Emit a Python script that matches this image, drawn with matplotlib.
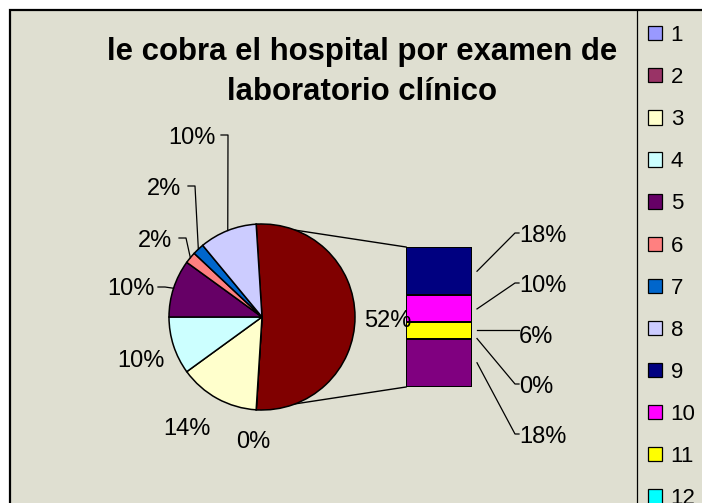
import matplotlib
matplotlib.use("Agg")
import matplotlib.pyplot as plt
from matplotlib.patches import Rectangle, Patch
import numpy as np

plt.rcParams['font.family'] = ['Liberation Sans', 'DejaVu Sans']

# ---------------- data ----------------
TITLE_LINES = ["le cobra el hospital por examen de", "laboratorio clínico"]
CATEGORIES = ["1", "2", "3", "4", "5", "6", "7", "8", "9", "10", "11", "12", "13"]
VALUES = [0, 0, 14, 10, 10, 2, 2, 10, 18, 10, 6, 0, 18]          # percent
COLORS = ["#9999FF", "#993366", "#FFFFCC", "#CCFFFF", "#660066", "#FF8080",
          "#0066CC", "#CCCCFF", "#000080", "#FF00FF", "#FFFF00", "#00FFFF", "#800080"]
N_PIE = 8                      # first 8 categories in the pie, rest in the bar
OTHER_COLOR = "#800000"

# ---------------- layout (pixels, y from top) ----------------
W, H = 702, 503
BG = "#DFDFD1"
PIE_C = (262, 317)
PIE_R = 93
BAR_BOX = (406, 247, 66, 140)   # left, top, width, height
# pie label layout: (left x, baseline y, leader start (x,y) or None); None = hidden (overlapped)
PIE_LABEL_POS = [
    None,                       # 1 (hidden under label of 2)
    (236, 448, None),           # 2
    (163, 435, None),           # 3
    (117, 367, None),           # 4
    (107, 295, (158, 287)),     # 5
    (138, 247, (179, 238)),     # 6
    (147, 195, (188, 186)),     # 7
    (168, 144, (221, 135)),     # 8
]
OTHER_LABEL_POS = (364, 327)
BAR_LABEL_X = 519
BAR_LABEL_BASE = [443, 393, 343, 292, 242]   # bottom -> top
LABEL_FS = 17
LEGEND_FS = 16
LW = 1.1

fig = plt.figure(figsize=(W / 100, H / 100), dpi=100)
fig.patch.set_facecolor("white")

bg = fig.add_axes([0, 0, 1, 1])
bg.set_xlim(0, W)
bg.set_ylim(H, 0)
bg.axis("off")
bg.add_patch(Rectangle((10, 10), W + 20, H + 20, facecolor=BG, edgecolor="black", lw=1.6, zorder=0))
bg.plot([637, 637], [10, H + 5], color="black", lw=0.9, zorder=1)

# title
for i, line in enumerate(TITLE_LINES):
    bg.text(362, 60 + 40 * i, line, ha="center", va="baseline", fontsize=22.4,
            fontweight="bold", color="black", zorder=5)

# ---------------- pie ----------------
pie_vals = VALUES[:N_PIE]
bar_vals = VALUES[N_PIE:]
other = sum(bar_vals)
total = sum(VALUES)
start = 90 + (other / total * 360 - 180) / 2

pa = fig.add_axes([0, 0, 1, 1], zorder=2)
pa.patch.set_alpha(0)
wedges, _ = pa.pie([other] + pie_vals, colors=[OTHER_COLOR] + COLORS[:N_PIE],
                   startangle=start, counterclock=False, radius=1,
                   wedgeprops=dict(edgecolor="black", linewidth=LW))
pa.set_xlim(-PIE_C[0] / PIE_R, (W - PIE_C[0]) / PIE_R)
pa.set_ylim(-(H - PIE_C[1]) / PIE_R, PIE_C[1] / PIE_R)
pa.set_aspect("auto")
pa.axis("off")


def pie_pt(theta_deg):
    th = np.deg2rad(theta_deg)
    return PIE_C[0] + PIE_R * np.cos(th), PIE_C[1] - PIE_R * np.sin(th)


# ---------------- bar ----------------
bl, bt, bw, bh = BAR_BOX
ba = fig.add_axes([bl / W, 1 - (bt + bh) / H, bw / W, bh / H], zorder=3)
ba.set_xlim(-0.5, 0.5)
ba.set_ylim(0, other)
ba.axis("off")
bottom = 0
seg_centers = []
order = list(range(len(bar_vals)))[::-1]    # last category at bottom
for k in order:
    v = bar_vals[k]
    ba.bar(0, v, bottom=bottom, width=1, color=COLORS[N_PIE + k],
           edgecolor="black", linewidth=LW * 1.3)
    seg_centers.append((k, bottom + v / 2))
    bottom += v


def bar_to_px(x, y):
    disp = ba.transData.transform((x, y))
    return bg.transData.inverted().transform(disp)


# connectors pie -> bar
w_other = wedges[0]
p_top = pie_pt(w_other.theta2)
p_bot = pie_pt(w_other.theta1)
c_top = bar_to_px(-0.5, other)
c_bot = bar_to_px(-0.5, 0)
for p, c in ((p_top, c_top), (p_bot, c_bot)):
    bg.plot([p[0], c[0]], [p[1], c[1]], color="black", lw=1.0, zorder=1.5)

# ---------------- labels ----------------
bg2 = fig.add_axes([0, 0, 1, 1], zorder=4)
bg2.set_xlim(0, W)
bg2.set_ylim(H, 0)
bg2.axis("off")

pct = lambda v: f"{round(v / total * 100):d}%"

bg2.text(OTHER_LABEL_POS[0], OTHER_LABEL_POS[1], pct(other), ha="left", va="baseline",
         fontsize=LABEL_FS)
for i, v in enumerate(pie_vals):
    if PIE_LABEL_POS[i] is None:
        continue
    lx, ly, lead = PIE_LABEL_POS[i]
    bg2.text(lx, ly, pct(v), ha="left", va="baseline", fontsize=LABEL_FS)
    if lead is not None:
        w = wedges[i + 1]
        ex, ey = pie_pt((w.theta1 + w.theta2) / 2)
        bg2.plot([lead[0], lead[0] + 7, ex], [lead[1], lead[1], ey], color="black", lw=0.9)

base_by_cat = {}
for (k, _), b in zip(seg_centers, BAR_LABEL_BASE):
    base_by_cat[k] = b
for k, cy in seg_centers:
    v = bar_vals[k]
    sx, sy = bar_to_px(0.5, cy)
    sx += 5
    b = base_by_cat[k]
    ly = b - 9
    bg2.text(BAR_LABEL_X, b, pct(v), ha="left", va="baseline", fontsize=LABEL_FS)
    if abs(ly - sy) < 6:
        bg2.plot([sx, BAR_LABEL_X], [sy, sy], color="black", lw=0.9)
    else:
        bg2.plot([sx, BAR_LABEL_X - 4, BAR_LABEL_X], [sy, ly, ly], color="black", lw=0.9)

# ---------------- legend ----------------
handles = [Patch(facecolor=c, edgecolor="black", linewidth=0.9) for c in COLORS]
fig.legend(handles, CATEGORIES, loc="upper left", bbox_to_anchor=(648 / W, 1 - 25 / H),
           frameon=False, fontsize=LEGEND_FS, handlelength=0.62, handleheight=0.62,
           handletextpad=0.4, labelspacing=0.95, borderaxespad=0, borderpad=0)

fig.savefig("out.png", dpi=100, facecolor=fig.get_facecolor())
